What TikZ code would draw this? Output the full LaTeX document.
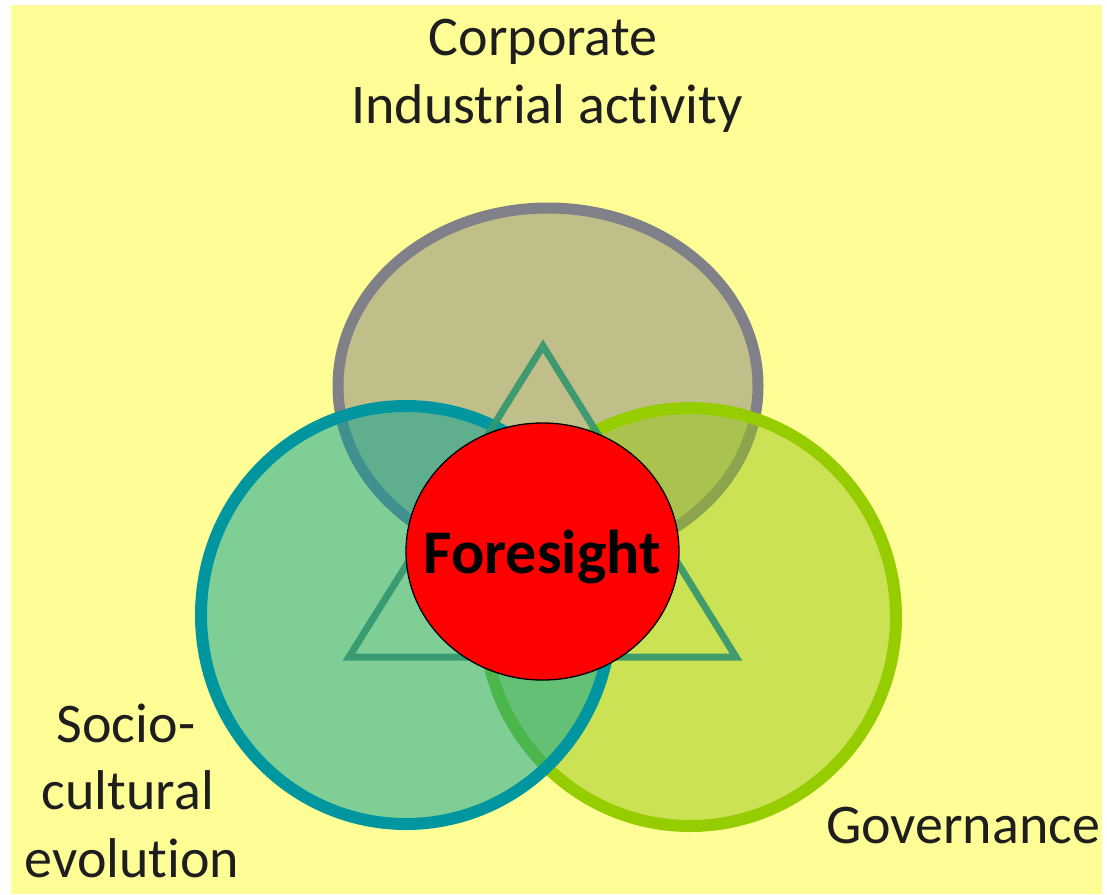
\documentclass[tikz,border=0pt]{standalone}
\usepackage{fontspec}
\setmainfont[Ligatures=NoCommon, RawFeature={-liga;-clig;-dlig;-calt}]{Carlito}
\usetikzlibrary{shapes.geometric}
\definecolor{bgyellow}{RGB}{255,253,150}
\definecolor{graystroke}{RGB}{128,128,136}
\definecolor{grayfill}{RGB}{130,130,125}
\definecolor{tealstroke}{RGB}{0,150,160}
\definecolor{tealfill}{RGB}{0,160,150}
\definecolor{greenstroke}{RGB}{150,205,0}
\definecolor{greenfill}{RGB}{150,200,20}
\definecolor{tristroke}{RGB}{50,150,110}
\definecolor{labeltext}{RGB}{30,30,30}
\tikzset{
  labeltxt/.style={font=\fontsize{56}{68}\selectfont, text=labeltext, inner sep=0pt, anchor=base},
}
\begin{document}
\begin{tikzpicture}[x=1pt,y=-1pt]
\useasboundingbox (0,0) rectangle (1107,894);
\fill[bgyellow] (11,5) rectangle (1102,894);
% circles
\draw[graystroke, line width=11pt, fill=grayfill, fill opacity=0.5] (548,386) ellipse [x radius=210, y radius=178];
\draw[greenstroke, line width=12pt, fill=greenfill, fill opacity=0.5] (690,617) ellipse [x radius=206, y radius=209];
\draw[tealstroke, line width=12pt, fill=tealfill, fill opacity=0.5] (406,615) ellipse [x radius=205, y radius=209];
% triangle
\coordinate (apex) at (543,346);
\coordinate (bl) at (349,657);
\coordinate (br) at (736,657);
\draw[tristroke, line width=7pt, line join=miter, draw opacity=0.9] (apex) -- (bl) -- (br) -- cycle;
% foresight
\node[draw=black, line width=1.3pt, fill=red, ellipse, minimum width=273pt, minimum height=257pt, inner sep=0pt] (fore) at (542.5,551.5) {};
\node[font=\bfseries\fontsize{62}{70}\selectfont, text=black, inner sep=0pt, anchor=base] (foretxt) at (542,573) {Foresight};
% labels
\node[labeltxt] (corp1) at (543,55) {Corporate};
\node[labeltxt] (corp2) at (547,123) {Industrial activity};
\node[labeltxt] (soc1) at (126,742) {Socio-};
\node[labeltxt] (soc2) at (128,809) {cultural};
\node[labeltxt] (soc3) at (132,877) {evolution};
\node[labeltxt] (gov) at (963,843) {Governance};
\end{tikzpicture}
\end{document}
